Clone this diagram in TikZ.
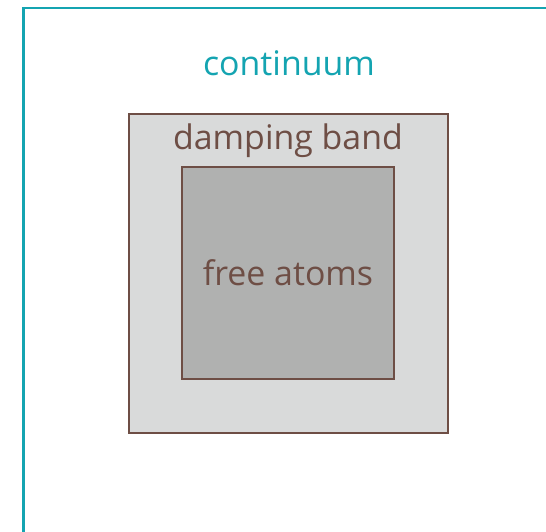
\documentclass[tikz,border=0pt]{standalone}
\usepackage{fontspec}
\setmainfont{Open Sans}
\definecolor{teal1}{HTML}{14A4B1}
\definecolor{brown1}{HTML}{6E4E45}
\definecolor{band}{HTML}{D9DADA}
\definecolor{atoms}{HTML}{B0B1B0}
\tikzset{
  region/.style={draw=brown1, line width=2.2bp},
  lbl/.style={font=\fontsize{34}{38}\selectfont, inner sep=0pt, anchor=center}
}
\begin{document}
\begin{tikzpicture}[x=1bp,y=-1bp]
\useasboundingbox (0,0) rectangle (546,532);
\clip (0,0) rectangle (546,532);
\node[draw=teal1, line width=2.5bp, minimum width=540bp, minimum height=540bp, inner sep=0pt, anchor=north west] (cont) at (22,7) {};
\node[region, fill=band, minimum width=319bp, minimum height=319bp, inner sep=0pt, anchor=north west] (damp) at (128,113) {};
\node[region, fill=atoms, minimum width=212bp, minimum height=212bp, inner sep=0pt, anchor=north west] (free) at (181,166) {};
\node[lbl, text=teal1] (tcont) at (289,63) {continuum};
\node[lbl, text=brown1] (tdamp) at (288,141) {damping band};
\node[lbl, text=brown1] (tfree) at (288,273) {free atoms};
\end{tikzpicture}
\end{document}
